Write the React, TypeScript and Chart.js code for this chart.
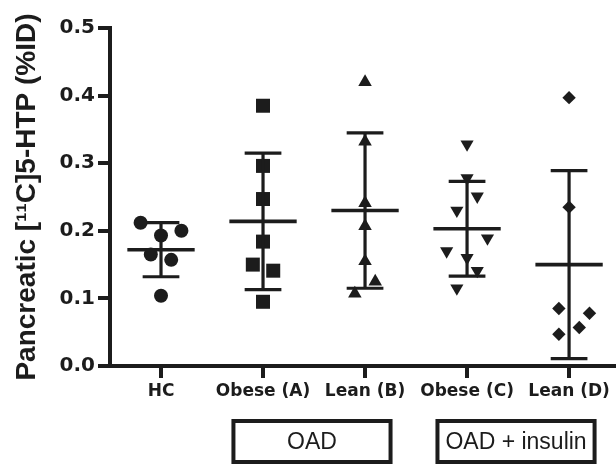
import React, { useEffect, useRef } from 'react';
import { Chart, registerables } from 'chart.js';

Chart.register(...registerables);

// ---- data ----
const categories = ['HC', 'Obese (A)', 'Lean (B)', 'Obese (C)', 'Lean (D)'];

const hcValues = [0.212, 0.193, 0.2, 0.165, 0.157, 0.104];
const hcJitter = [-0.2, 0, 0.2, -0.1, 0.1, 0];

const obeseAValues = [0.385, 0.296, 0.247, 0.184, 0.15, 0.141, 0.095];
const obeseAJitter = [0, 0, 0, 0, -0.1, 0.1, 0];

const leanBValues = [0.42, 0.332, 0.241, 0.207, 0.155, 0.125, 0.107];
const leanBJitter = [0, 0, 0, 0, 0, 0.1, -0.1];

const obeseCValues = [0.328, 0.278, 0.251, 0.23, 0.189, 0.17, 0.16, 0.141, 0.115];
const obeseCJitter = [0, 0, 0.1, -0.1, 0.2, -0.2, 0, 0.1, -0.1];

const leanDValues = [0.397, 0.235, 0.085, 0.078, 0.057, 0.047];
const leanDJitter = [0, 0, -0.1, 0.2, 0.1, -0.1];

const groupMeans = [0.172, 0.214, 0.23, 0.203, 0.15];
const groupSDs = [0.04, 0.101, 0.115, 0.07, 0.139];

const yTicks = [0, 0.1, 0.2, 0.3, 0.4, 0.5];

const treatmentLabels = ['OAD', 'OAD + insulin'];
const treatmentSpans = [
  [1, 2],
  [3, 4],
];

const INK = '#1c1c1c';

const groups = [
  { values: hcValues, jitter: hcJitter, style: 'circle', radius: 7, rotation: 0 },
  { values: obeseAValues, jitter: obeseAJitter, style: 'rect', radius: 9.9, rotation: 0 },
  { values: leanBValues, jitter: leanBJitter, style: 'triangle', radius: 7.8, rotation: 0 },
  { values: obeseCValues, jitter: obeseCJitter, style: 'triangle', radius: 7.6, rotation: 180 },
  { values: leanDValues, jitter: leanDJitter, style: 'rectRot', radius: 6.7, rotation: 0 },
];

const errorBarPlugin = {
  id: 'meanSdBars',
  afterDatasetsDraw(chart: any) {
    const { ctx, scales } = chart;
    const xs = scales.x;
    const ys = scales.y;
    ctx.save();
    ctx.strokeStyle = INK;
    ctx.lineCap = 'butt';
    groupMeans.forEach((m, i) => {
      const sd = groupSDs[i];
      const yM = ys.getPixelForValue(m);
      const yT = ys.getPixelForValue(m + sd);
      const yB = ys.getPixelForValue(Math.max(0, m - sd));
      const xc = xs.getPixelForValue(i);
      const xmL = xs.getPixelForValue(i - 0.33);
      const xmR = xs.getPixelForValue(i + 0.33);
      const xcL = xs.getPixelForValue(i - 0.18);
      const xcR = xs.getPixelForValue(i + 0.18);
      ctx.lineWidth = 3.2;
      ctx.beginPath();
      ctx.moveTo(xc, yT);
      ctx.lineTo(xc, yB);
      ctx.moveTo(xcL, yT);
      ctx.lineTo(xcR, yT);
      ctx.moveTo(xcL, yB);
      ctx.lineTo(xcR, yB);
      ctx.stroke();
      ctx.lineWidth = 3.6;
      ctx.beginPath();
      ctx.moveTo(xmL, yM);
      ctx.lineTo(xmR, yM);
      ctx.stroke();
    });
    ctx.restore();
  },
};

const treatmentBoxPlugin = {
  id: 'treatmentBoxes',
  afterDraw(chart: any) {
    const { ctx, scales } = chart;
    const xs = scales.x;
    ctx.save();
    ctx.strokeStyle = INK;
    ctx.fillStyle = INK;
    ctx.lineWidth = 4;
    ctx.font = '23px "Liberation Sans", Arial, sans-serif';
    ctx.textAlign = 'center';
    ctx.textBaseline = 'middle';
    treatmentSpans.forEach(([a, b], i) => {
      const left = xs.getPixelForValue(a - 0.29);
      const right = xs.getPixelForValue(b + 0.25);
      const top = 421;
      const bottom = 462;
      ctx.strokeRect(left, top, right - left, bottom - top);
      ctx.fillText(treatmentLabels[i], (left + right) / 2, (top + bottom) / 2 + 1);
    });
    ctx.restore();
  },
};

export default function App() {
  const canvasRef = useRef<HTMLCanvasElement | null>(null);

  useEffect(() => {
    if (!canvasRef.current) return;
    const datasets = groups.map((g, gi) => ({
      label: categories[gi],
      data: g.values.map((v, i) => ({ x: gi + g.jitter[i], y: v })),
      pointStyle: g.style as any,
      pointRadius: g.radius,
      pointRotation: g.rotation,
      pointBackgroundColor: INK,
      pointBorderColor: INK,
      pointBorderWidth: 0,
      showLine: false,
      clip: false as any,
    }));

    const chart = new Chart(canvasRef.current, {
      type: 'scatter',
      data: { datasets },
      options: {
        animation: false,
        responsive: false,
        maintainAspectRatio: false,
        layout: { autoPadding: false, padding: { top: 28, left: 0, right: 0, bottom: 0 } },
        plugins: {
          legend: { display: false },
          tooltip: { enabled: false },
        },
        scales: {
          x: {
            type: 'linear',
            min: -0.5,
            max: 4.46,
            afterBuildTicks: (scale: any) => {
              scale.ticks = categories.map((_, i) => ({ value: i }));
            },
            afterFit: (scale: any) => {
              scale.height = 100;
              scale.paddingLeft = 0;
              scale.paddingRight = 0;
            },
            ticks: {
              autoSkip: false,
              maxRotation: 0,
              color: INK,
              padding: 3,
              font: { family: '"DejaVu Sans", sans-serif', weight: 'bold', size: 17 },
              callback: (value: any) => categories[Math.round(Number(value))] ?? '',
            },
            grid: {
              display: true,
              drawOnChartArea: false,
              drawTicks: true,
              tickLength: 12,
              tickWidth: 4,
              tickColor: INK,
              lineWidth: 4,
              color: INK,
            },
            border: { display: true, width: 4, color: INK },
          },
          y: {
            type: 'linear',
            min: 0,
            max: 0.5,
            afterBuildTicks: (scale: any) => {
              scale.ticks = yTicks.map((v) => ({ value: v }));
            },
            afterFit: (scale: any) => {
              scale.width = 110;
              scale.paddingTop = 0;
              scale.paddingBottom = 0;
            },
            ticks: {
              color: INK,
              padding: 3,
              font: { family: '"DejaVu Sans", sans-serif', weight: 'bold', size: 20 },
              callback: (value: any) => Number(value).toFixed(1),
            },
            grid: {
              display: true,
              drawOnChartArea: false,
              drawTicks: true,
              tickLength: 12,
              tickWidth: 4,
              tickColor: INK,
              lineWidth: 4,
              color: INK,
            },
            border: { display: true, width: 4, color: INK },
            title: {
              display: true,
              text: 'Pancreatic [\u00B9\u00B9C]5-HTP (%ID)',
              color: INK,
              padding: { top: 10, bottom: 0 },
              font: { family: '"Liberation Sans", Arial, sans-serif', weight: 'bold', size: 28 },
            },
          },
        },
      },
      plugins: [errorBarPlugin, treatmentBoxPlugin],
    });

    return () => chart.destroy();
  }, []);

  return (
    <div style={{ position: 'absolute', left: 0, top: 0, width: 616, height: 466, background: '#fff' }}>
      <canvas ref={canvasRef} width={616} height={466} style={{ display: 'block' }} />
    </div>
  );
}
